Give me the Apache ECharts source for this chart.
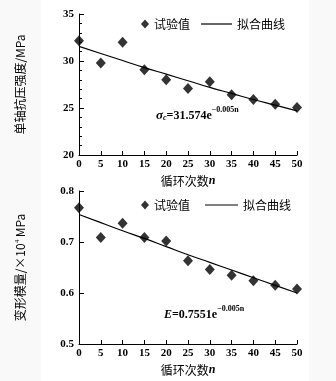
<!DOCTYPE html>
<html><head><meta charset="utf-8">
<script src="https://cdn.jsdelivr.net/npm/echarts@6/dist/echarts.min.js"></script>
<style>html,body{margin:0;padding:0;background:#f9f9f9}#c{width:336px;height:381px}</style>
</head><body><div id="c"></div>
<script>
const cycles = [0,5,10,15,20,25,30,35,40,45,50];
const strengthTest = [32.15,29.8,32.0,29.08,28.0,27.08,27.8,26.4,25.9,25.4,25.05];
const strengthFit = [31.55,30.8,30.05,29.3,28.6,27.9,27.2,26.55,25.9,25.3,24.7];
const modulusTest = [0.767,0.709,0.737,0.709,0.702,0.663,0.646,0.635,0.624,0.615,0.608];
const modulusFit = [0.754,0.738,0.722,0.707,0.691,0.675,0.660,0.645,0.630,0.615,0.600];
const strengthTicks = [20,25,30,35];
const modulusTicks = [0.5,0.6,0.7,0.8];
const xTicks = cycles;

const serif = 'Liberation Serif, Times New Roman, serif';
const cjk = 'Noto Sans CJK SC, sans-serif';
const pair = (xs, ys) => xs.map((x,i)=>[x, ys[i]]);

function xAxisOf(gi){
  return {
    gridIndex: gi, type:'value', min: xTicks[0], max: xTicks[xTicks.length-1], interval: 5,
    axisLine:{show:true, lineStyle:{color:'#000', width:1}},
    axisTick:{show:true, inside:true, length:4, lineStyle:{color:'#000'}},
    axisLabel:{color:'#000', fontFamily:serif, fontSize:11, fontWeight:'bold', margin:4},
    splitLine:{show:false},
    name:'循环次数{i|n}', nameLocation:'middle', nameGap:20,
    nameTextStyle:{color:'#000', fontFamily:cjk, fontSize:12,
      rich:{i:{fontFamily:serif, fontStyle:'italic', fontWeight:'bold', fontSize:12, color:'#000'}}}
  };
}
function yAxisOf(gi, ticks, name, minor, dec){
  return {
    gridIndex: gi, type:'value', min: ticks[0], max: ticks[ticks.length-1], interval: ticks[1]-ticks[0],
    axisLine:{show:true, lineStyle:{color:'#000', width:1}},
    axisTick:{show:true, inside:true, length:5, lineStyle:{color:'#000'}},
    minorTick: minor ? {show:true, splitNumber:5, length:3, lineStyle:{color:'#000'}} : {show:false},
    axisLabel:{color:'#000', fontFamily:serif, fontSize:11, fontWeight:'bold', margin:5,
      formatter: v => Number(v).toFixed(dec)},
    splitLine:{show:false},
    name: name, nameLocation:'middle', nameRotate:90, nameGap:53,
    nameTextStyle:{color:'#000', fontFamily:cjk, fontSize:12,
      rich:{sup:{fontSize:7, fontFamily:serif, verticalAlign:'top', color:'#000'}}}
  };
}

const chart = echarts.init(document.getElementById('c'), null, {renderer:'canvas'});
const legendText = {color:'#000', fontFamily:cjk, fontSize:12};
chart.setOption({
  backgroundColor:'#f9f9f9',
  animation:false,
  graphic:[{type:'rect', z:-10, shape:{x:41, y:0, width:268, height:381}, style:{fill:'#fff'}}],
  grid:[
    {left:79, right:39, top:14, height:141, containLabel:false, outerBoundsMode:'none'},
    {left:79, right:39, top:191, height:153, containLabel:false, outerBoundsMode:'none'}
  ],
  xAxis:[xAxisOf(0), xAxisOf(1)],
  yAxis:[
    yAxisOf(0, strengthTicks, '单轴抗压强度/MPa', true, 0),
    yAxisOf(1, modulusTicks, '变形模量/×10{sup|4} MPa', false, 1)
  ],
  legend:[
    {data:['试验值'], left:141, top:18, icon:'diamond', itemWidth:8, itemHeight:9, itemGap:4, textStyle:legendText, padding:0},
    {data:['拟合曲线'], left:201, top:18, icon:'rect', itemWidth:31, itemHeight:1.2, textStyle:legendText, padding:0},
    {data:['试验值'], left:141, top:199, icon:'diamond', itemWidth:8, itemHeight:9, textStyle:legendText, padding:0},
    {data:['拟合曲线'], left:205, top:199, icon:'rect', itemWidth:33, itemHeight:1.2, itemGap:0, textStyle:legendText, padding:0}
  ],
  title:[
    {left:156, top:106, padding:0, text:'{s|σ}{sub|c}{b|=31.574e}{sup|−0.005n}',
      textStyle:{rich:{
        s:{fontFamily:serif, fontStyle:'italic', fontWeight:'bold', fontSize:13, color:'#000', lineHeight:16, verticalAlign:'bottom'},
        sub:{fontFamily:serif, fontStyle:'italic', fontSize:8, color:'#000', verticalAlign:'bottom', lineHeight:12},
        b:{fontFamily:serif, fontWeight:'bold', fontSize:12, color:'#000', lineHeight:16, verticalAlign:'bottom'},
        sup:{fontFamily:serif, fontSize:8, color:'#000', verticalAlign:'top', lineHeight:16}
      }}},
    {left:164, top:305, padding:0, text:'{e|E}{b|=0.7551e}{sup|−0.005n}',
      textStyle:{rich:{
        e:{fontFamily:serif, fontStyle:'italic', fontWeight:'bold', fontSize:12, color:'#000', lineHeight:16, verticalAlign:'bottom'},
        b:{fontFamily:serif, fontWeight:'bold', fontSize:12, color:'#000', lineHeight:16, verticalAlign:'bottom'},
        sup:{fontFamily:serif, fontSize:8, color:'#000', verticalAlign:'top', lineHeight:16}
      }}}
  ],
  series:[
    {name:'拟合曲线', type:'line', xAxisIndex:0, yAxisIndex:0, data:pair(cycles, strengthFit),
      showSymbol:false, smooth:true, lineStyle:{color:'#000', width:1.2}, itemStyle:{color:'#000'}},
    {name:'试验值', type:'scatter', xAxisIndex:0, yAxisIndex:0, data:pair(cycles, strengthTest),
      symbol:'diamond', symbolSize:[10,11], itemStyle:{color:'#000'}, z:3},
    {name:'拟合曲线', type:'line', xAxisIndex:1, yAxisIndex:1, data:pair(cycles, modulusFit),
      showSymbol:false, smooth:true, lineStyle:{color:'#000', width:1.2}, itemStyle:{color:'#000'}},
    {name:'试验值', type:'scatter', xAxisIndex:1, yAxisIndex:1, data:pair(cycles, modulusTest),
      symbol:'diamond', symbolSize:[10,11], itemStyle:{color:'#000'}, z:3}
  ]
});
</script></body></html>
